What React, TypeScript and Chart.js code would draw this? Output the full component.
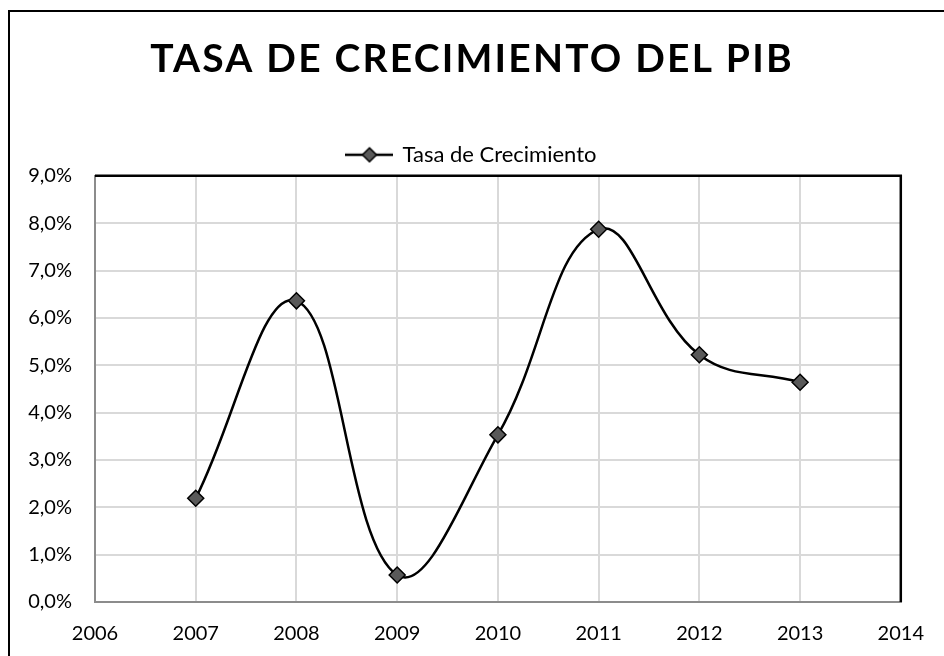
import React, { useEffect, useRef } from "react";
import { Chart, registerables } from "chart.js";

Chart.register(...registerables);

const TITLE = "TASA DE CRECIMIENTO DEL PIB";
const SERIES_LABEL = "Tasa de Crecimiento";
const years = [2007, 2008, 2009, 2010, 2011, 2012, 2013];
const growth = [2.19, 6.36, 0.57, 3.53, 7.87, 5.22, 4.64];
const X_MIN = 2006;
const X_MAX = 2014;
const Y_MIN = 0;
const Y_MAX = 9;

const FONT = "Lato, 'Open Sans', sans-serif";

function makeLegendIcon(): HTMLCanvasElement {
  const c = document.createElement("canvas");
  c.width = 48;
  c.height = 18;
  const g = c.getContext("2d")!;
  g.strokeStyle = "#000";
  g.lineWidth = 2.5;
  g.beginPath();
  g.moveTo(0, 9);
  g.lineTo(48, 9);
  g.stroke();
  g.beginPath();
  g.moveTo(24, 2);
  g.lineTo(31, 9);
  g.lineTo(24, 16);
  g.lineTo(17, 9);
  g.closePath();
  g.fillStyle = "#595959";
  g.fill();
  g.lineWidth = 1.5;
  g.stroke();
  return c;
}

const framePlugin = {
  id: "framePlugin",
  beforeDraw(chart: any) {
    const tb = chart.titleBlock;
    if (tb && !tb.__ls) {
      const orig = tb.draw.bind(tb);
      tb.draw = (...args: any[]) => {
        const c = chart.ctx as any;
        c.save();
        c.letterSpacing = "2.2px";
        orig(...args);
        c.restore();
      };
      tb.__ls = true;
    }
  },
  beforeDatasetsDraw(chart: any) {
    const { ctx, chartArea } = chart;
    ctx.save();
    ctx.strokeStyle = "#000";
    ctx.lineWidth = 2.5;
    ctx.beginPath();
    ctx.moveTo(chartArea.left, chartArea.top);
    ctx.lineTo(chartArea.right, chartArea.top);
    ctx.lineTo(chartArea.right, chartArea.bottom);
    ctx.stroke();
    ctx.restore();
  },
  afterDraw(chart: any) {
    const { ctx } = chart;
    ctx.save();
    ctx.strokeStyle = "#000";
    ctx.lineWidth = 2;
    ctx.strokeRect(9, 11, 1200, 1200);
    ctx.restore();
  },
};

export default function App() {
  const ref = useRef<HTMLCanvasElement>(null);

  useEffect(() => {
    if (!ref.current) return;
    const icon = makeLegendIcon();
    const chart = new Chart(ref.current, {
      type: "line",
      data: {
        datasets: [
          {
            label: SERIES_LABEL,
            data: years.map((y, i) => ({ x: y, y: growth[i] })),
            borderColor: "#000",
            borderWidth: 2.5,
            tension: 0.4,
            pointStyle: "rectRot",
            pointRadius: 8,
            pointHoverRadius: 8,
            pointBackgroundColor: "#595959",
            pointBorderColor: "#000",
            pointBorderWidth: 1.5,
            fill: false,
          },
        ],
      },
      options: {
        animation: false,
        responsive: false,
        maintainAspectRatio: false,
        layout: { padding: { top: 12, left: 0, right: 0, bottom: 0 } },
        plugins: {
          title: {
            display: true,
            text: TITLE,
            color: "#000",
            font: { family: FONT, size: 39, weight: "bold", lineHeight: 1.2 },
            padding: { top: 24, bottom: 55 },
          },
          legend: {
            display: true,
            labels: {
              color: "#000",
              font: { family: FONT, size: 22 },
              usePointStyle: true,
              pointStyleWidth: 44,
              padding: 6,
              generateLabels: () => [
                {
                  text: SERIES_LABEL,
                  pointStyle: icon as any,
                  fillStyle: "#595959",
                  strokeStyle: "#000",
                  lineWidth: 0,
                  datasetIndex: 0,
                  hidden: false,
                } as any,
              ],
            },
          },
          tooltip: { enabled: false },
        },
        scales: {
          x: {
            type: "linear",
            min: X_MIN,
            max: X_MAX,
            afterFit: (s: any) => {
              s.height = 54;
            },
            ticks: {
              stepSize: 1,
              color: "#000",
              font: { family: FONT, size: 20 },
              padding: 20,
              callback: (v: any) => String(v),
            },
            grid: { color: "#d9d9d9", lineWidth: 2, drawTicks: false },
            border: { display: true, color: "#8c8c8c", width: 2 },
          },
          y: {
            min: Y_MIN,
            max: Y_MAX,
            afterFit: (s: any) => {
              s.width = 95;
            },
            ticks: {
              stepSize: 1,
              color: "#000",
              font: { family: FONT, size: 20 },
              padding: 23,
              callback: (v: any) => Number(v).toFixed(1).replace(".", ",") + "%",
            },
            grid: { color: "#d9d9d9", lineWidth: 2, drawTicks: false },
            border: { display: true, color: "#8c8c8c", width: 2 },
          },
          yRight: {
            type: "linear",
            position: "right",
            display: true,
            afterFit: (s: any) => {
              s.width = 41;
            },
            ticks: { display: false },
            grid: { display: false, drawTicks: false },
            border: { display: false },
          },
        },
      },
      plugins: [framePlugin],
    });
    return () => chart.destroy();
  }, []);

  return (
    <div style={{ position: "fixed", left: 0, top: 0, width: 944, height: 656, background: "#fff" }}>
      <canvas ref={ref} width={944} height={656} style={{ width: 944, height: 656, display: "block" }} />
    </div>
  );
}
